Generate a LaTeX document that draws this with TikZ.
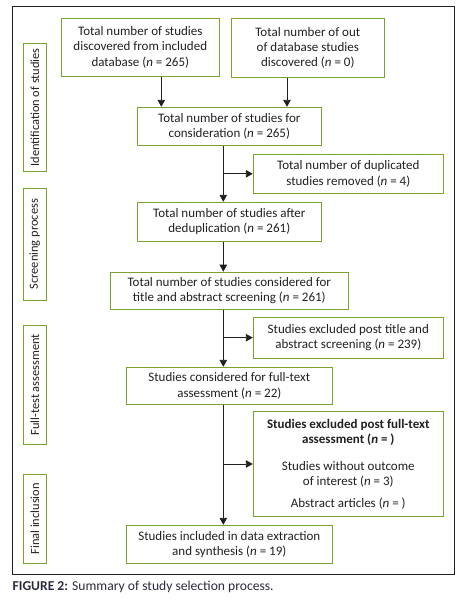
\documentclass[tikz,border=0pt]{standalone}
\usepackage{fontspec}
\setmainfont{Carlito}
\usetikzlibrary{arrows.meta}
\definecolor{boxgreen}{HTML}{7AA32E}
\definecolor{linedark}{HTML}{231F20}
\definecolor{capdark}{HTML}{2A2A40}
\tikzset{
  gbox/.style={draw=boxgreen, line width=1pt, align=center, inner sep=2pt,
    font=\fontsize{13}{15.3}\selectfont, text=linedark},
  side/.style={draw=boxgreen, line width=1pt, rotate=90, minimum height=23pt,
    inner sep=0pt, font=\fontsize{12.4}{14}\selectfont, text=linedark},
  arr/.style={draw=linedark, line width=0.9pt, -{Triangle[length=7pt,width=7.5pt]}},
}
\begin{document}
\begin{tikzpicture}[x=1pt,y=-1pt]
\useasboundingbox (0,0) rectangle (463,600);
\node[draw=linedark, line width=1pt, minimum width=441.7pt, minimum height=567.3pt, inner sep=0pt] (frame) at (233.15,290.35) {};
% side labels
\node[side, minimum width=128pt] (s1) at (34.8,107.3) {Identification of studies};
\node[side, minimum width=111.7pt] (s2) at (34.8,244.2) {Screening process};
\node[side, minimum width=118.7pt] (s3) at (34.8,384.7) {Full-test assessment};
\node[side, minimum width=89pt] (s4) at (34.8,518.8) {Final inclusion};
% boxes
\node[gbox, minimum width=158pt, minimum height=58pt] (A) at (140.3,47.3)
  {Total number of studies\\discovered from included\\database (\textit{n} = 265)};
\node[gbox, minimum width=153pt, minimum height=59pt] (B) at (307.8,47.8)
  {Total number of out\\of database studies\\discovered (\textit{n} = 0)};
\node[gbox, minimum width=184pt, minimum height=38pt] (C) at (229.3,126.3)
  {Total number of studies for\\consideration (\textit{n} = 265)};
\node[gbox, minimum width=190pt, minimum height=39pt] (D) at (348.3,173.8)
  {Total number of duplicated\\studies removed (\textit{n} = 4)};
\node[gbox, minimum width=184pt, minimum height=39pt] (E) at (229.3,221.8)
  {Total number of studies after\\deduplication (\textit{n} = 261)};
\node[gbox, minimum width=238pt, minimum height=37pt] (F) at (229.3,290.7)
  {Total number of studies considered for\\title and abstract screening (\textit{n} = 261)};
\node[gbox, minimum width=190pt, minimum height=41pt] (G) at (348.3,337.7)
  {Studies excluded post title and\\abstract screening (\textit{n} = 239)};
\node[gbox, minimum width=206pt, minimum height=37pt] (H) at (229.3,385.8)
  {Studies considered for full-text\\assessment (\textit{n} = 22)};
\node[gbox, minimum width=190pt, minimum height=104.6pt] (I) at (348.3,464)
  {\textbf{Studies excluded post full-text}\\\textbf{assessment (\textit{n} = )}\\[11.5pt]
   Studies without outcome\\of interest (\textit{n} = 3)\\[6.5pt]
   Abstract articles (\textit{n} = )};
\node[gbox, minimum width=206pt, minimum height=38pt] (J) at (229.3,544.3)
  {Studies included in data extraction\\and synthesis (\textit{n} = 19)};
% connector guides
\coordinate (m) at (223.3,0);
\coordinate (a) at (161.3,0);
\coordinate (b) at (287,0);
\draw[arr] (A.south -| a) -- (C.north -| a);
\draw[arr] (B.south -| b) -- (C.north -| b);
\draw[arr] (C.south -| m) -- (E.north -| m);
\draw[arr] (D.west -| m) -- (D.west);
\draw[arr] (E.south -| m) -- (F.north -| m);
\draw[arr] (F.south -| m) -- (H.north -| m);
\draw[arr] (G.west -| m) -- (G.west);
\draw[arr] (H.south -| m) -- (J.north -| m);
\draw[arr] (I.west -| m) -- (I.west);
% caption
\node[anchor=west, inner sep=0pt, font=\fontsize{13.6}{15}\selectfont, text=capdark] (cap) at (12.5,587)
  {\textbf{FIGURE 2:} Summary of study selection process.};
\end{tikzpicture}
\end{document}
